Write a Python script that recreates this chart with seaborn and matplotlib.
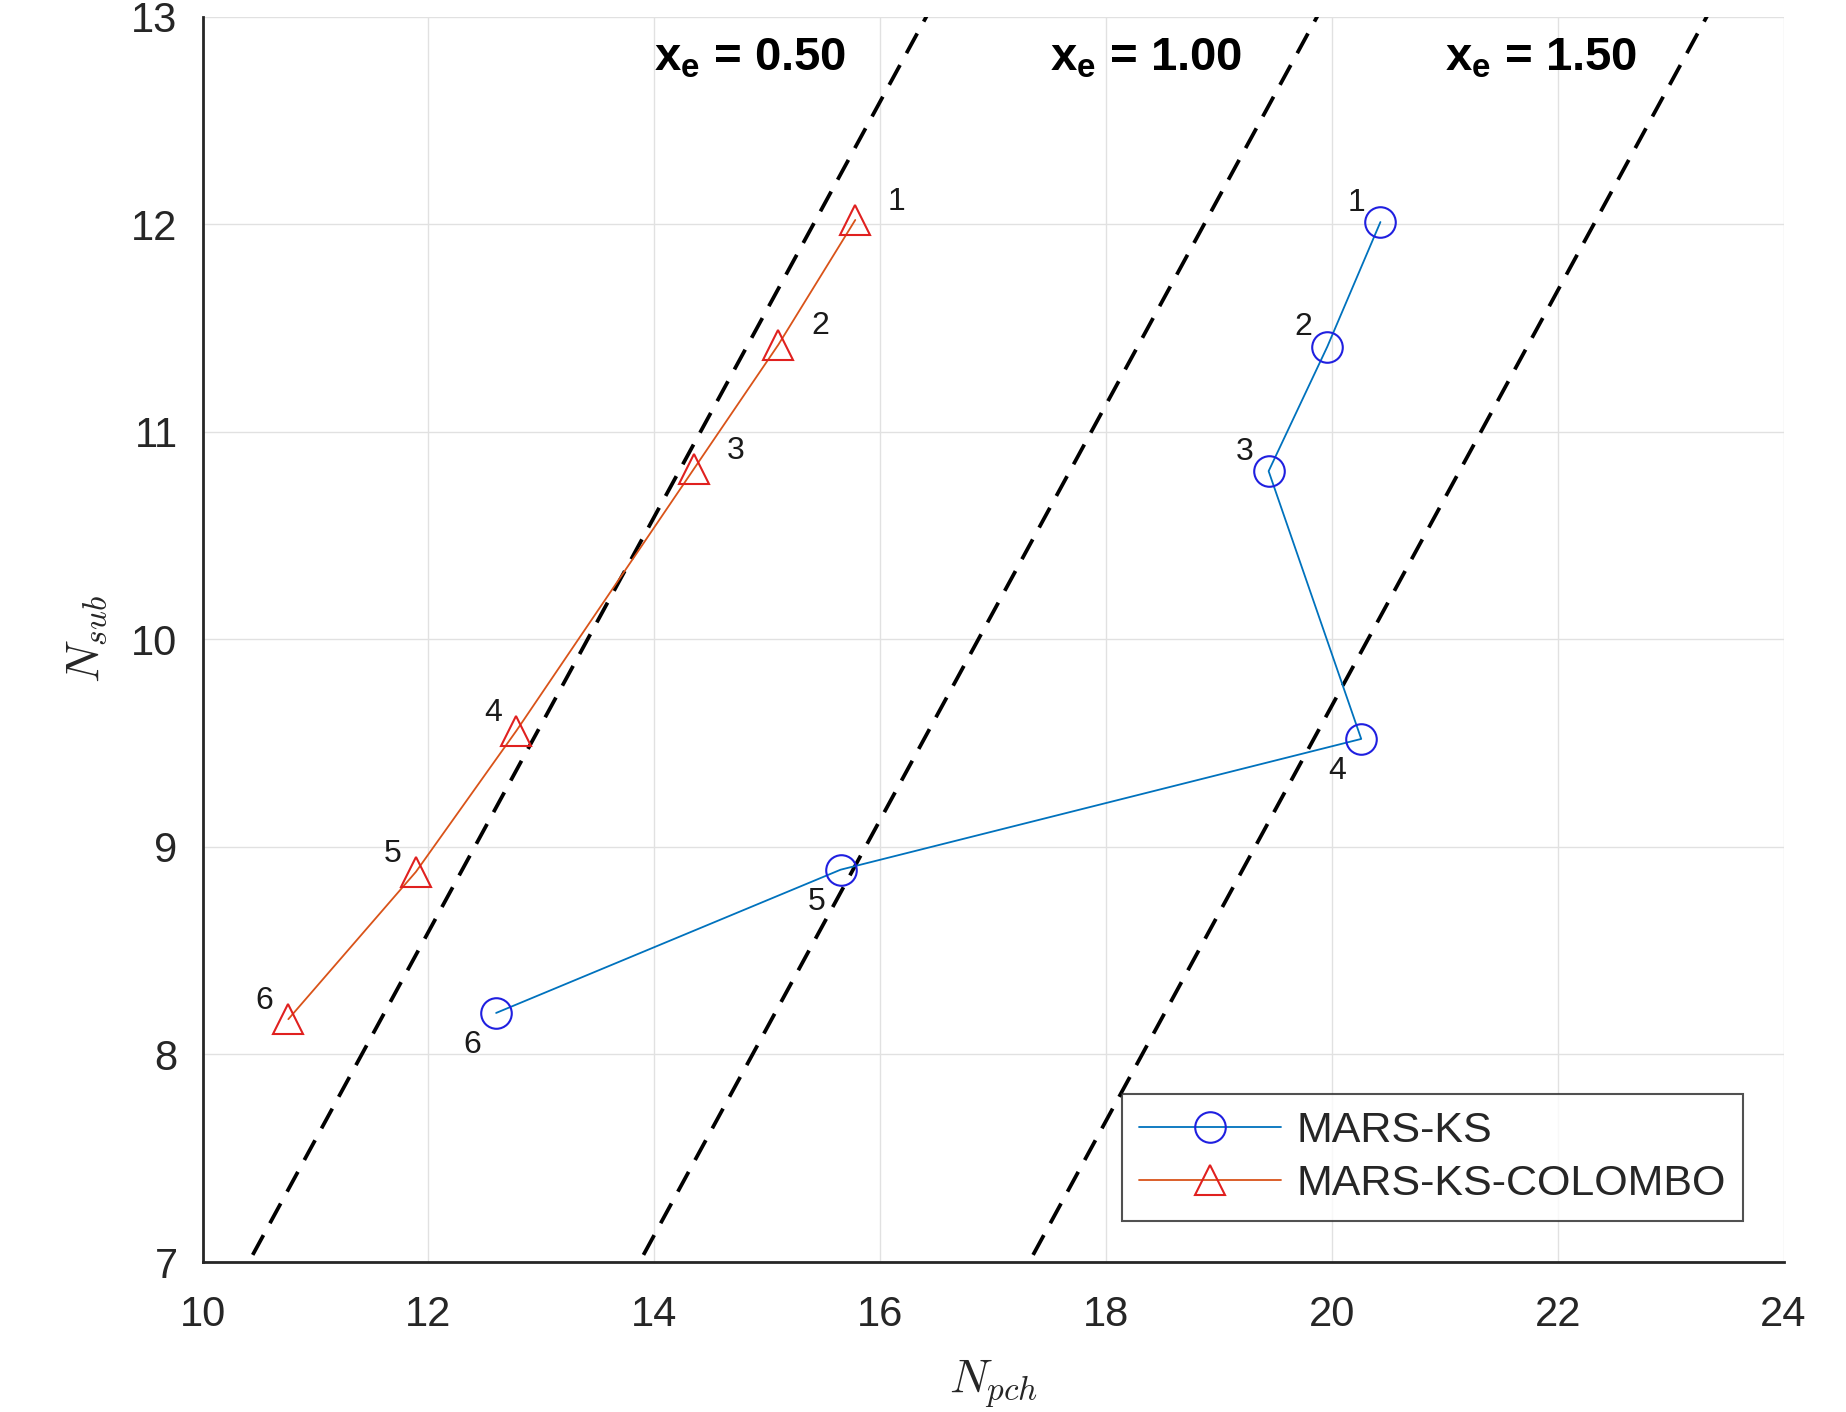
import matplotlib
matplotlib.use("Agg")
import matplotlib.pyplot as plt
import seaborn as sns
import pandas as pd

# ---- data ----
colombo_npch = [15.78, 15.10, 14.35, 12.78, 11.89, 10.76]
colombo_nsub = [12.02, 11.42, 10.82, 9.56, 8.88, 8.17]
ks_npch = [20.43, 19.96, 19.44, 20.26, 15.65, 12.60]
ks_nsub = [12.01, 11.41, 10.81, 9.52, 8.89, 8.20]
point_ids = ["1", "2", "3", "4", "5", "6"]

xe_values = [0.50, 1.00, 1.50]
xe_offsets = [3.41, 6.87, 10.32]   # N_pch = N_sub + offset
xe_label_x = [14.0, 17.5, 21.0]
xe_label_y = 12.80

xticks = [10, 12, 14, 16, 18, 20, 22, 24]
yticks = [7, 8, 9, 10, 11, 12, 13]

sns.set_style("white")
plt.rcParams["font.family"] = ["Liberation Sans", "DejaVu Sans"]
plt.rcParams["mathtext.fontset"] = "custom"
plt.rcParams["mathtext.rm"] = "Liberation Sans"
plt.rcParams["mathtext.it"] = "Liberation Sans:italic"
plt.rcParams["mathtext.bf"] = "Liberation Sans:bold"

fig = plt.figure(figsize=(18.46, 14.12), dpi=100)
ax = fig.add_axes([0.1097, 0.1062, 0.9662 - 0.1097, 0.9883 - 0.1062])

# dashed constant-quality lines
yy = [6.0, 14.0]
for off in xe_offsets:
    ax.plot([y + off for y in yy], yy, color="black", lw=2.7,
            dashes=(6.0, 3.6), zorder=2)

df_ks = pd.DataFrame({"N_pch": ks_npch, "N_sub": ks_nsub, "series": "MARS-KS"})
df_col = pd.DataFrame({"N_pch": colombo_npch, "N_sub": colombo_nsub,
                       "series": "MARS-KS-COLOMBO"})

sns.lineplot(data=df_ks, x="N_pch", y="N_sub", sort=False, estimator=None,
             color="#0072BD", lw=1.3, marker="o", markersize=22,
             markerfacecolor="none", markeredgecolor="#1f1fe0",
             markeredgewidth=1.5, label="MARS-KS", ax=ax, zorder=4)
sns.lineplot(data=df_col, x="N_pch", y="N_sub", sort=False, estimator=None,
             color="#D95319", lw=1.3, marker="^", markersize=22,
             markerfacecolor="none", markeredgecolor="#e0201f",
             markeredgewidth=1.5, label="MARS-KS-COLOMBO", ax=ax, zorder=4)

# point labels
col_offsets = [(30, 13), (30, 13), (30, 13), (-17, 13), (-17, 13), (-17, 13)]
ks_offsets = [(-17, 14), (-17, 14), (-17, 14), (-17, -23), (-17, -23), (-17, -23)]
for x, y, t, o in zip(colombo_npch, colombo_nsub, point_ids, col_offsets):
    ax.annotate(t, (x, y), xytext=o, textcoords="offset points",
                ha="center", va="center", fontsize=23, color="#1a1a1a", zorder=5)
for x, y, t, o in zip(ks_npch, ks_nsub, point_ids, ks_offsets):
    ax.annotate(t, (x, y), xytext=o, textcoords="offset points",
                ha="center", va="center", fontsize=23, color="#1a1a1a", zorder=5)

# x_e labels
for xv, lx in zip(xe_values, xe_label_x):
    ax.text(lx, xe_label_y, r"$\mathbf{x}_{\mathbf{e}}$ = " + f"{xv:.2f}",
            fontsize=34, fontweight="bold", ha="left", va="center",
            color="black", zorder=5)

ax.set_xlim(10, 24)
ax.set_ylim(7, 13)
ax.set_xticks(xticks)
ax.set_yticks(yticks)
ax.grid(True, color="#e1e1e1", lw=1.0)
ax.set_axisbelow(True)
for s in ["top", "right"]:
    ax.spines[s].set_visible(False)
for s in ["left", "bottom"]:
    ax.spines[s].set_color("#262626")
    ax.spines[s].set_linewidth(2.0)
ax.tick_params(direction="in", length=11, width=1.2, colors="#262626",
               labelsize=30, labelcolor="#262626", pad=18)
ax.tick_params(axis="x", pad=24)

ax.set_xlabel(r"$N_{pch}$", fontsize=34, math_fontfamily="cm", labelpad=16)
ax.set_ylabel(r"$N_{sub}$", fontsize=34, math_fontfamily="cm", labelpad=16)

leg = ax.legend(loc="lower right", fontsize=31, frameon=True, fancybox=False,
                edgecolor="#262626", handlelength=3.3, borderaxespad=0.95,
                borderpad=0.4, labelspacing=0.3, handletextpad=0.35)
leg.get_frame().set_linewidth(1.5)

fig.savefig("out.png", dpi=100)
